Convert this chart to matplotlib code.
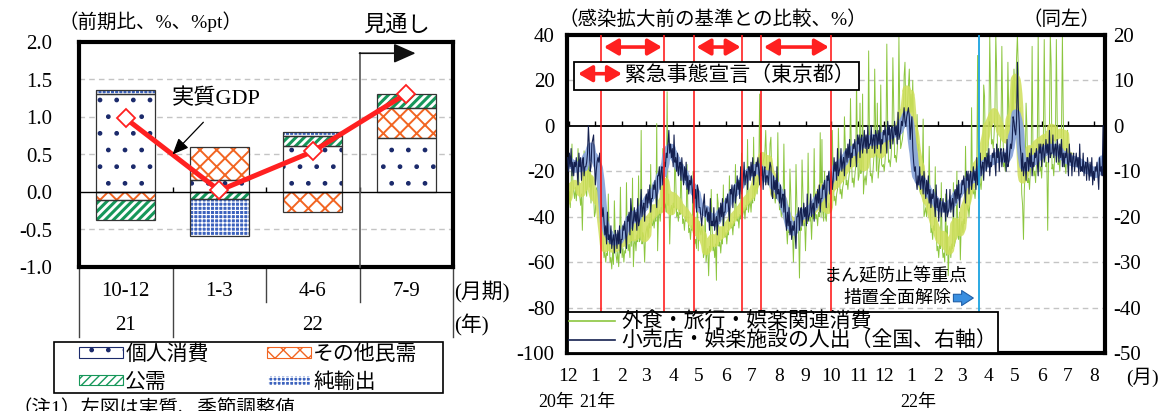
import numpy as np
import pandas as pd
import matplotlib
matplotlib.use("Agg")
import matplotlib.pyplot as plt
import matplotlib.dates as mdates
from matplotlib.patches import Patch, FancyArrowPatch, Rectangle
from matplotlib.lines import Line2D
from matplotlib.legend_handler import HandlerBase

# ---------------------------------------------------------------- data
# Real GDP growth (q/q, %) and contributions (%pt)
quarters = ['10-12', '1-3', '4-6', '7-9']
year_labels = ['21', '22']
year_spans = [(0, 1), (1, 4)]
components = ['個人消費', 'その他民需', '公需', '純輸出']
private_consumption = [1.31, 0.16, 0.61, 0.72]
other_private = [-0.11, 0.44, -0.27, 0.40]
public_demand = [-0.27, -0.09, 0.14, 0.19]
net_exports = [0.05, -0.50, 0.05, 0.00]
real_gdp = [0.98, 0.02, 0.54, 1.31]
forecast_from = 3          # first forecast quarter index

# State of emergency periods (Tokyo) and lifting of priority measures
emergency_start = ['2021-01-08', '2021-04-25', '2021-07-12']
emergency_end = ['2021-03-21', '2021-06-20', '2021-09-30']
measures_lifted = '2022-03-21'

# Daily spending on dining, travel and leisure (% vs pre-COVID baseline)
spending_start = '2020-11-30'
spending = [
    -30, -34, -29, -36, -28, -8, -24,
    -29, -32, -27, -33, -26, -10, -25,
    -31, -35, -30, -46, -29, -11, -14,
    -28, -31, -22, -15, -27, -18, -34,
    -22, -25, -30, -40, -38, -28, -27,
    -30, -33, -35, -32, -45, -40, -51,
    -58, -55, -60, -56, -57, -30, -48,
    -60, -58, -63, -55, -61, -33, -48,
    -57, -60, -55, -62, -54, -27, -49,
    -58, -54, -60, -55, -56, -25, -49,
    -55, -52, -58, -40, -53, -23, -62,
    -52, -50, -55, -48, -51, -22, -51,
    -50, -2, -52, -47, -49, -60, -48,
    -46, -44, -49, -43, -45, -17, -43,
    -44, -41, -45, -40, -42, 1, -55,
    -40, -37, -42, -36, -38, -10, -35,
    -36, -34, -38, 15, -35, -30, -52,
    -37, -35, -39, -34, -36, -12, -24,
    -40, -38, -42, -37, -39, -16, -33,
    -43, -41, -46, -40, -42, -17, -37,
    -47, -45, -50, -44, -46, -20, -42,
    -52, -50, -54, -30, -55, -42, -46,
    -48, -45, -47, -58, -56, -36, -60,
    -56, -54, -66, -53, -55, -28, -45,
    -55, -53, -58, -52, -68, -30, -34,
    -53, -51, -56, -50, -52, -26, -48,
    -49, -47, -52, -46, -48, -22, -44,
    -45, -43, -48, -42, -44, -17, -41,
    -42, -40, -45, -39, -41, -12, -40,
    -38, -36, -41, -35, -37, -6, -38,
    -35, -33, -38, -32, -34, -5, -33,
    -28, -25, -30, -24, -20, 14, -27,
    -20, -18, -16, -14, -12, -2, -16,
    -24, -26, -22, -8, -5, -23, -32,
    -31, -30, -34, -29, -31, -3, -31,
    -37, -35, -40, -34, -36, -8, -34,
    -42, -45, -52, -44, -47, -19, -31,
    -49, -47, -60, -46, -48, -17, -34,
    -47, -45, -67, -44, -46, -15, -30,
    -44, -42, -55, -41, -43, -12, -36,
    -42, -40, -50, -39, -41, -10, -37,
    -41, -39, -44, -38, -40, -3, -40,
    -6, -38, -42, -20, -40, -42, -36,
    -36, -34, -38, -33, -30, -2, -23,
    -33, -31, -35, -30, -28, -1, -17,
    -30, -28, -32, -27, -25, 4, -9,
    -26, -24, -28, -23, -20, 12, -10,
    -25, -23, -27, -22, -18, 20, -10,
    -24, -22, 10, -21, -18, 14, -30,
    -24, -22, -26, -21, -15, 33, -9,
    -22, -21, -25, -20, -14, 25, 0,
    -20, 10, -23, -18, -13, 18, -17,
    -18, -17, -20, -15, -8, 36, 0,
    -16, -15, -18, -13, -5, 30, 9,
    -14, -13, -16, -11, -3, 39, 4,
    -10, -8, -6, -2, 22, 28, 4,
    5, 10, 18, 25, 6, 14, 6,
    20, -8, -15, -14, -12, 5, -11,
    -8, -28, -30, -27, -24, 3, -40,
    -38, -36, -40, -35, -33, -9, -33,
    -47, -45, -50, -44, -46, -18, -44,
    -55, -53, -58, -52, -54, -25, -53,
    -58, -56, -60, -30, -57, -44, -66,
    -55, -53, -58, -52, -54, -25, -53,
    -51, -49, -20, -48, -50, -38, -59,
    -44, -42, -47, -41, -43, -9, -33,
    -37, -35, -40, -34, -30, 8, -28,
    -30, -28, -32, -27, -22, 31, -32,
    -10, -25, -28, -22, -16, 18, 13,
    -14, -12, -16, -10, -2, 40, 14,
    -8, -6, -10, -4, 6, 40, 24,
    -14, -12, -16, -10, -3, 35, 6,
    -18, -16, -20, -14, -6, 28, 4,
    -12, -10, -6, 20, 2, 25, 16,
    10, 30, 40, 25, -5, 8, -10,
    -30, -35, -50, -28, -20, 10, -1,
    -25, -23, -28, -20, -10, 35, -13,
    -22, -20, -25, -17, -6, 40, -6,
    -20, -18, -23, -15, -4, 38, 0,
    -18, -16, -46, -13, -2, 40, 27,
    -19, -17, -22, -14, -3, 38, 2,
    -17, -15, -20, -12, -1, 40, 4,
    -18, -16, -21, -13, -2,
]

# Daily visits to retail & recreation (% vs baseline, nationwide, right axis)
mobility_start = '2020-11-30'
mobility = [
    -7, -10, -6, -9, -5, -11, -8,
    -11, -8, -9, -7, -10, -13, -6,
    -9, -7, -12, -8, -7, -11, -9,
    -9, -8, -6, 0, -4, -10, -9,
    -4, -3, -2, -8, -13, -10, -8,
    -7, -8, -6, -9, -17, -20, -18,
    -21, -24, -22, -26, -19, -25, -24,
    -26, -22, -27, -25, -24, -28, -23,
    -24, -27, -23, -26, -22, -28, -25,
    -25, -22, -23, -21, -24, -27, -20,
    -21, -19, -24, -16, -19, -23, -21,
    -18, -21, -19, -23, -16, -22, -21,
    -19, -14, -20, -18, -17, -21, -16,
    -15, -18, -14, -17, -13, -19, -16,
    -16, -13, -14, -12, -15, -18, -11,
    -11, -9, -14, -10, -9, -13, -11,
    -8, -9, -6, -7, -4, -1, -6,
    -4, -7, -5, -9, -2, -8, -7,
    -10, -6, -11, -9, -8, -12, -7,
    -10, -13, -9, -12, -8, -14, -11,
    -15, -12, -13, -11, -14, -17, -10,
    -16, -14, -19, -13, -14, -18, -18,
    -20, -22, -19, -17, -15, -20, -19,
    -18, -21, -19, -23, -16, -22, -21,
    -22, -18, -23, -21, -20, -24, -19,
    -18, -21, -17, -20, -16, -22, -19,
    -19, -16, -17, -15, -18, -21, -14,
    -15, -13, -18, -14, -13, -17, -15,
    -11, -14, -12, -16, -9, -15, -14,
    -12, -8, -13, -11, -10, -14, -9,
    -9, -12, -8, -11, -7, -13, -10,
    -11, -8, -9, -7, -10, -13, -6,
    -11, -9, -14, -10, -9, -13, -11,
    -11, -13, -10, -8, -9, -15, -16,
    -11, -14, -12, -16, -9, -15, -14,
    -17, -13, -18, -16, -15, -19, -14,
    -20, -23, -19, -22, -18, -24, -21,
    -25, -22, -23, -21, -24, -27, -20,
    -20, -18, -23, -19, -18, -22, -20,
    -17, -20, -18, -22, -15, -21, -20,
    -19, -15, -20, -18, -17, -21, -16,
    -15, -18, -14, -17, -13, -19, -16,
    -16, -13, -14, -12, -15, -18, -11,
    -12, -10, -15, -11, -10, -14, -12,
    -7, -10, -8, -12, -5, -11, -10,
    -9, -5, -10, -8, -7, -11, -6,
    -5, -8, -4, -7, -3, -9, -6,
    -7, -4, -5, -3, -6, -9, -2,
    -4, -2, -7, -3, -2, -6, -4,
    -1, -5, -2, -6, 0, -5, -4,
    -4, 0, -5, -3, -2, -6, -1,
    -2, -5, -1, -4, 0, -6, -3,
    -4, -1, -2, 0, -3, -6, 1,
    -2, 0, -5, -1, 0, -4, -2,
    1, -2, 0, -4, 3, -3, -2,
    -1, 1, 0, 2, 4, 1, 0,
    2, 3, 4, 2, -3, 0, 2,
    -5, -8, -10, -9, -12, -14, -11,
    -13, -9, -14, -12, -11, -15, -10,
    -13, -16, -12, -15, -11, -17, -14,
    -18, -15, -16, -14, -17, -20, -13,
    -18, -16, -21, -17, -16, -20, -18,
    -16, -19, -17, -21, -14, -20, -19,
    -18, -14, -19, -17, -16, -20, -15,
    -14, -17, -13, -16, -12, -18, -15,
    -15, -12, -13, -11, -14, -17, -10,
    -12, -10, -15, -11, -10, -14, -12,
    -9, -12, -10, -14, -7, -13, -12,
    -10, -6, -11, -9, -8, -12, -7,
    -7, -10, -6, -9, -5, -11, -8,
    -9, -6, -7, -5, -8, -11, -4,
    -7, -5, -10, -6, -5, -9, -7,
    -5, -8, -6, -10, -3, -9, -8,
    -6, -4, -5, -3, 2, 1, -1,
    -2, 1, 14, 4, 1, -4, -6,
    -10, -6, -11, -9, -8, -12, -7,
    -7, -10, -6, -9, -5, -11, -8,
    -9, -6, -7, -5, -8, -11, -4,
    -6, -4, -9, -5, -4, -8, -6,
    -3, -6, -4, -8, -1, -7, -6,
    -6, -2, -7, -5, -4, -8, -3,
    -5, -8, -4, -7, -3, -9, -6,
    -9, -6, -7, -5, -8, -11, -4,
    -8, -6, -11, -7, -6, -10, -8,
    -6, -9, -7, -11, -4, -10, -9,
    -10, -6, -11, -9, -8, -12, -7,
    -9, -12, -8, -11, -7, -13, -10,
    -12, -9, -10, -8, -11, -14, -7,
    -10, -9, -11, 0,
]

# ---------------------------------------------------------------- style
W, H = 1158, 411
FONT = ['Liberation Serif', 'Noto Sans CJK JP']
plt.rcParams['font.family'] = FONT
plt.rcParams['font.size'] = 14
plt.rcParams['axes.unicode_minus'] = False

RED = '#ff2020'
ORANGE = '#f26522'
GREEN_BAR = '#16975a'
BLUE_BAR = '#3c62bd'
NAVY_DOT = '#1b2a6b'
LINE_GREEN = '#8cc63f'
BAND_YELLOW = '#cfdf5a'
LINE_NAVY = '#14204f'
BAND_BLUE = '#8aa6da'


def fx(px):
    return px / W


def fy(py):
    return 1 - py / H


fig = plt.figure(figsize=(W / 100, H / 100), dpi=100)

# ================================================================ left panel
ax1 = fig.add_axes([fx(79), fy(267), (453 - 79) / W, (267 - 42) / H])
ax1.set_xlim(0, 4)
ax1.set_ylim(-1, 2)
for sp in ax1.spines.values():
    sp.set_linewidth(3)
    sp.set_color('black')
ax1.set_xticks([])
ax1.set_yticks(np.arange(-1.0, 2.01, 0.5))
ax1.set_yticklabels(['{:.1f}'.format(v) for v in np.arange(-1.0, 2.01, 0.5)],
                    fontsize=15)
ax1.tick_params(axis='y', length=0, pad=19)
for g in (-0.5, 0.5, 1.0, 1.5):
    ax1.axhline(g, color='#c4c4c4', lw=1.0, ls=(0, (4, 3)), zorder=0.5)

styles = {
    '個人消費': dict(fc='white', hc=NAVY_DOT, hatch='.', hlw=1.0),
    'その他民需': dict(fc='white', hc=ORANGE, hatch='xx', hlw=1.4),
    '公需': dict(fc='white', hc=GREEN_BAR, hatch='////', hlw=2.2),
    '純輸出': dict(fc=BLUE_BAR, hc='white', hatch='++++', hlw=0.8),
}
series = [private_consumption, other_private, public_demand, net_exports]
xc = np.arange(len(quarters)) + 0.5
bar_w = 0.63


def hatched_bar(ax, x, h, b, st):
    with plt.rc_context({'hatch.linewidth': st['hlw'], 'hatch.color': st['hc']}):
        bars = ax.bar(x, h, bottom=b, width=bar_w, color=st['fc'],
                      edgecolor=st['hc'], hatch=st['hatch'], linewidth=0,
                      zorder=2)
    for p in bars:
        if hasattr(p, 'set_hatch_linewidth'):
            p.set_hatch_linewidth(st['hlw'])
    ax.bar(x, h, bottom=b, width=bar_w, fill=False, edgecolor='#333333',
           linewidth=0.9, zorder=2.2)


for qi in range(len(quarters)):
    pos, neg = 0.0, 0.0
    for name, vals in zip(components, series):
        v = vals[qi]
        if v == 0:
            continue
        if v > 0:
            hatched_bar(ax1, xc[qi], v, pos, styles[name])
            pos += v
        else:
            hatched_bar(ax1, xc[qi], v, neg, styles[name])
            neg += v

ax1.axhline(0, color='black', lw=1.0, zorder=3)
ax1.vlines(np.arange(1, len(quarters)), 0, 0.06, color='black', lw=1.0, zorder=3)

ax1.plot(xc, real_gdp, color=RED, lw=3.6, zorder=4, solid_capstyle='round')
ax1.plot(xc, real_gdp, ls='none', marker='D', ms=9.5, mfc='white', mec=RED,
         mew=1.3, zorder=5)

# label for the GDP line
gdp_mid = np.interp(1.0, xc, real_gdp)
ax1.annotate('', xy=(1.0, gdp_mid), xytext=(1.33, 0.93),
             arrowprops=dict(arrowstyle='-|>,head_length=0.7,head_width=0.3',
                             color='black', lw=0.9, shrinkA=0, shrinkB=0),
             zorder=6)
ax1.text(1.47, 1.24, '実質GDP', fontsize=16, ha='center', va='center', zorder=6)

# forecast marker
ax1.plot([forecast_from, forecast_from], [-1, 1.85], color='#555555', lw=1.2,
         zorder=3, clip_on=False)
ax1.annotate('', xy=(forecast_from + 0.6, 1.85), xytext=(forecast_from, 1.85),
             arrowprops=dict(arrowstyle='-|>,head_length=0.9,head_width=0.4',
                             color='#111111', lw=1.2, shrinkA=0, shrinkB=0,
                             mutation_scale=15),
             zorder=3)
ax1.text(forecast_from + 0.40, 2.22, '見通し', fontsize=16, ha='center',
         va='center', clip_on=False)

# category table under the panel
tr = ax1.get_xaxis_transform()
row1_bottom, row2_bottom = -0.156, -0.311
for b in range(len(quarters) + 1):
    is_year_edge = b in (0, len(quarters)) or any(b == s for s, _ in year_spans)
    ax1.plot([b, b], [0, row2_bottom if is_year_edge else row1_bottom],
             transform=tr, color='#444444', lw=1.0, clip_on=False)
for qi, q in enumerate(quarters):
    ax1.text(xc[qi], -0.111, q, transform=tr, ha='center', va='center',
             fontsize=15)
for lab, (s, e) in zip(year_labels, year_spans):
    ax1.text((s + e) / 2, -0.258, lab, transform=tr, ha='center', va='center',
             fontsize=15)
ax1.text(4.01, -0.111, '(月期)', transform=tr, ha='left', va='center', fontsize=15)
ax1.text(4.01, -0.258, '(年)', transform=tr, ha='left', va='center', fontsize=15)

fig.text(fx(58), fy(22), '（前期比、%、%pt）', fontsize=14, ha='left', va='center')

# legend of the components, inside a drawn frame
fig.patches.append(Rectangle((fx(54), fy(393)), (443 - 54) / W, (393 - 342) / H,
                             transform=fig.transFigure, facecolor='white',
                             edgecolor='black', linewidth=1.2, zorder=1))
leg_handles = []
for name in ['個人消費', '公需', 'その他民需', '純輸出']:
    st = styles[name]
    with plt.rc_context({'hatch.linewidth': st['hlw']}):
        h = Patch(facecolor=st['fc'], edgecolor=st['hc'], hatch=st['hatch'],
                  linewidth=0.8, label=name)
    if hasattr(h, 'set_hatch_linewidth'):
        h.set_hatch_linewidth(st['hlw'])
    leg_handles.append(h)
leg1 = fig.legend(handles=leg_handles, ncol=2, loc='upper left',
                  bbox_to_anchor=(fx(79), fy(345)), bbox_transform=fig.transFigure,
                  fontsize=15, frameon=False, borderpad=0, borderaxespad=0,
                  handlelength=2.1, handleheight=0.42, handletextpad=0.12,
                  columnspacing=2.8, labelspacing=0.42)
leg1.set_zorder(2)

fig.text(fx(13), fy(408), '（注1）左図は実質、季節調整値', fontsize=14,
         ha='left', va='center')

# ================================================================ right panel
ax = fig.add_axes([fx(567), fy(353), (1105 - 567) / W, (353 - 35) / H])
ax2 = ax.twinx()

s_idx = pd.date_range(spending_start, periods=len(spending), freq='D')
m_idx = pd.date_range(mobility_start, periods=len(mobility), freq='D')
spend = pd.Series(spending, index=s_idx, dtype=float)
mob = pd.Series(mobility, index=m_idx, dtype=float)

xmin = pd.Timestamp('2020-11-29 06:00')
xmax = pd.Timestamp('2022-08-13 06:00')
ax.set_xlim(xmin, xmax)
ax.set_ylim(-100, 40)
ax2.set_ylim(-50, 20)

for g in (-80, -60, -40, -20, 20):
    ax.axhline(g, color='#c4c4c4', lw=1.0, ls=(0, (4, 3)), zorder=0.5)
ax.axhline(0, color='black', lw=1.3, zorder=1)

ax.plot(spend.index, spend.values, color=LINE_GREEN, lw=0.7, zorder=2)
ax.plot(spend.index, spend.rolling(7, center=True, min_periods=4).mean(),
        color=BAND_YELLOW, lw=6, alpha=0.85, zorder=3)
ax2.plot(mob.index, mob.rolling(7, center=True, min_periods=4).mean(),
         color=BAND_BLUE, lw=6, alpha=0.95, zorder=2)
ax2.plot(mob.index, mob.values, color=LINE_NAVY, lw=0.8, zorder=3)

months = pd.date_range('2020-12-01', '2022-08-01', freq='MS')
ax.vlines(months, 0, 2.2, color='black', lw=1.0, zorder=1)
ax.set_xticks(months)
ax.set_xticklabels([str(m.month) for m in months], fontsize=14)
ax.tick_params(axis='x', length=0, pad=11)
ax.set_yticks(np.arange(-100, 41, 20))
ax.set_yticklabels([str(v) for v in np.arange(-100, 41, 20)], fontsize=15)
ax.tick_params(axis='y', length=0, pad=9)
ax2.set_yticks(np.arange(-50, 21, 10))
ax2.set_yticklabels([str(v) for v in np.arange(-50, 21, 10)], fontsize=15)
ax2.tick_params(axis='y', length=0, pad=6)
for sp in ax.spines.values():
    sp.set_visible(False)
for sp in ax2.spines.values():
    sp.set_linewidth(3)
    sp.set_color('black')

# emergency periods
arrow_y = 34.7
for s, e in zip(emergency_start, emergency_end):
    s_t, e_t = pd.Timestamp(s), pd.Timestamp(e)
    ax2.axvline(s_t, color=RED, lw=1.2, zorder=5)
    ax2.axvline(e_t, color=RED, lw=1.2, zorder=5)
    x0 = mdates.date2num(s_t + pd.Timedelta(days=3))
    x1 = mdates.date2num(e_t - pd.Timedelta(days=2))
    ax2.annotate('', xy=(x1, arrow_y), xytext=(x0, arrow_y),
                 xycoords=ax.transData, textcoords=ax.transData,
                 arrowprops=dict(arrowstyle='<|-|>,head_length=0.6,head_width=0.35',
                                 color=RED, lw=2.6, shrinkA=0, shrinkB=0,
                                 mutation_scale=14),
                 zorder=6)

lift = pd.Timestamp(measures_lifted)
ax2.axvline(lift, color='#1aa3e0', lw=1.3, zorder=5)
ax2.text(mdates.date2num(lift - pd.Timedelta(days=14)), -66.5, 'まん延防止等重点',
         transform=ax.transData, ha='right', va='center', fontsize=13, zorder=6)
ax2.text(mdates.date2num(lift - pd.Timedelta(days=32)), -75.8, '措置全面解除',
         transform=ax.transData, ha='right', va='center', fontsize=13, zorder=6)
ax2.annotate('', xy=(mdates.date2num(lift - pd.Timedelta(days=7)), -75.8),
             xytext=(mdates.date2num(lift - pd.Timedelta(days=30)), -75.8),
             xycoords=ax.transData, textcoords=ax.transData,
             arrowprops=dict(arrowstyle='simple,head_length=0.7,head_width=0.9,tail_width=0.45',
                             fc='#3a8fe0', ec='#1f5fa8', lw=0.8, shrinkA=0, shrinkB=0,
                             mutation_scale=12),
             zorder=6)


class HandlerDoubleArrow(HandlerBase):
    def create_artists(self, legend, orig_handle, xdescent, ydescent, width,
                       height, fontsize, trans):
        y = height / 2 - ydescent
        arrow = FancyArrowPatch((-xdescent, y), (-xdescent + width, y),
                                arrowstyle='<|-|>,head_length=0.6,head_width=0.35',
                                mutation_scale=14, color=orig_handle.get_facecolor(),
                                lw=2.6, shrinkA=0, shrinkB=0, transform=trans)
        return [arrow]


em_handle = Patch(facecolor=RED, label='緊急事態宣言（東京都）')
leg_em = ax2.legend(handles=[em_handle], handler_map={em_handle: HandlerDoubleArrow()},
                    loc='upper left', bbox_to_anchor=(fx(574), fy(62)),
                    bbox_transform=fig.transFigure, fontsize=15, frameon=True,
                    fancybox=False, framealpha=1, edgecolor='black',
                    borderpad=0.2, borderaxespad=0, handlelength=2.1,
                    handletextpad=0.15)
leg_em.get_frame().set_linewidth(1.3)
leg_em.set_zorder(10)
ax2.add_artist(leg_em)

line_handles = [
    Line2D([], [], color=LINE_GREEN, lw=1.2, label='外食・旅行・娯楽関連消費'),
    Line2D([], [], color=LINE_NAVY, lw=1.2, label='小売店・娯楽施設の人出（全国、右軸）'),
]
leg_ln = ax2.legend(handles=line_handles, loc='lower left',
                    bbox_to_anchor=(fx(568), fy(353)), bbox_transform=fig.transFigure,
                    fontsize=15, frameon=True, fancybox=False, framealpha=1,
                    edgecolor='black', borderpad=0.05, borderaxespad=0,
                    handlelength=2.2, handletextpad=0.3, labelspacing=-0.05)
leg_ln.get_frame().set_linewidth(1.3)
leg_ln.set_zorder(10)

fig.text(fx(558), fy(20), '（感染拡大前の基準との比較、%）', fontsize=14,
         ha='left', va='center')
fig.text(fx(1100), fy(20), '（同左）', fontsize=14, ha='right', va='center')
fig.text(fx(1126), fy(377), '(月)', fontsize=14, ha='left', va='center')
fig.text(fx(556), fy(402), '20年', fontsize=13, ha='center', va='center')
fig.text(fx(597), fy(402), '21年', fontsize=13, ha='center', va='center')
fig.text(fx(918), fy(402), '22年', fontsize=13, ha='center', va='center')

fig.savefig('out.png', dpi=100)
